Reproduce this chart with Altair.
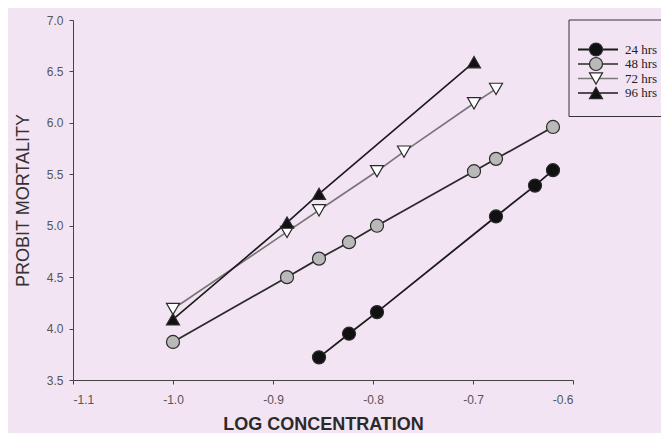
import altair as alt
import pandas as pd

# ---- data ----
series = ["24 hrs", "48 hrs", "72 hrs", "96 hrs"]

x24 = [-0.854, -0.824, -0.796, -0.677, -0.638, -0.620]
y24 = [3.72, 3.95, 4.16, 5.09, 5.39, 5.54]

x48 = [-1.000, -0.886, -0.854, -0.824, -0.796, -0.699, -0.677, -0.620]
y48 = [3.87, 4.50, 4.68, 4.84, 5.00, 5.53, 5.65, 5.96]

x72 = [-1.000, -0.886, -0.854, -0.796, -0.769, -0.699, -0.677]
y72 = [4.19, 4.94, 5.15, 5.53, 5.72, 6.19, 6.33]

x96 = [-1.000, -0.886, -0.854, -0.699]
y96 = [4.09, 5.03, 5.31, 6.59]

x_ticks = [-1.1, -1.0, -0.9, -0.8, -0.7, -0.6]
y_ticks = [3.5, 4.0, 4.5, 5.0, 5.5, 6.0, 6.5, 7.0]

# ---- styles ----
line_colors = ["#1a1a1a", "#2a2a2a", "#777777", "#1a1a1a"]
line_widths = [1.8, 1.6, 1.2, 1.6]
shapes = ["circle", "circle", "triangle-down", "triangle-up"]
fills = ["#111111", "#b9b9b9", "#ffffff", "#111111"]
BG = "#f3e4f3"

rows = []
for s, xs, ys in zip(series, [x24, x48, x72, x96], [y24, y48, y72, y96]):
    for xv, yv in zip(xs, ys):
        rows.append({"series": s, "logc": xv, "probit": yv})
df = pd.DataFrame(rows)

stroke_scale = alt.Scale(domain=series, range=line_colors)
width_scale = alt.Scale(domain=series, range=line_widths)
shape_scale = alt.Scale(domain=series, range=shapes)
fill_scale = alt.Scale(domain=series, range=fills)

xs_scale = alt.Scale(domain=[-1.1, -0.6], nice=False, zero=False)
ys_scale = alt.Scale(domain=[3.5, 7.0], nice=False, zero=False)

hyphen_label = "(datum.value < 0 ? '-' : '') + format(abs(datum.value), '.1f')"

x_enc = alt.X(
    "logc:Q",
    scale=xs_scale,
    axis=alt.Axis(
        title="LOG CONCENTRATION",
        values=x_ticks,
        labelExpr=hyphen_label,
        grid=False,
        tickSize=4,
        labelPadding=10,
        labelFontSize=12,
        labelFont="Liberation Sans",
        labelColor="#555555",
        domainColor="#444444",
        tickColor="#444444",
        titleFont="Liberation Sans",
        titleFontSize=18,
        titleFontWeight="bold",
        titleColor="#2a2a2a",
        titlePadding=10,
    ),
)
y_enc = alt.Y(
    "probit:Q",
    scale=ys_scale,
    axis=alt.Axis(
        title="PROBIT MORTALITY",
        values=y_ticks,
        format=".1f",
        grid=False,
        tickSize=4,
        labelPadding=6,
        labelFontSize=12,
        labelFont="Liberation Sans",
        labelColor="#555555",
        domainColor="#444444",
        tickColor="#444444",
        titleFont="Liberation Sans",
        titleFontSize=18,
        titleFontWeight="normal",
        titleColor="#333333",
        titlePadding=14,
    ),
)

lines = alt.Chart(df).mark_line().encode(
    x=x_enc,
    y=y_enc,
    detail="series:N",
    stroke=alt.Stroke("series:N", scale=stroke_scale, legend=None),
    strokeWidth=alt.StrokeWidth("series:N", scale=width_scale, legend=None),
)

points = alt.Chart(df).mark_point(
    filled=True, size=170, stroke="#2a2a2a", strokeWidth=1.2, opacity=1
).encode(
    x=alt.X("logc:Q", scale=xs_scale),
    y=alt.Y("probit:Q", scale=ys_scale),
    shape=alt.Shape("series:N", scale=shape_scale, legend=None),
    fill=alt.Fill("series:N", scale=fill_scale, legend=None),
)

main = alt.layer(lines, points)

# ---- hand-drawn legend (top right, frame cut by the edge) ----
leg_df = pd.DataFrame({"series": series})
ly = alt.Y(
    "series:N",
    sort=series,
    scale=alt.Scale(type="point", domain=series, range=[29.5, 73], padding=0),
    axis=None,
)

leg_box = alt.Chart(pd.DataFrame({"k": [0]})).mark_rect(
    fillOpacity=0, stroke="#333333", strokeWidth=1
).encode(
    x=alt.value(496), x2=alt.value(640), y=alt.value(0), y2=alt.value(96.5)
)
leg_rule = alt.Chart(leg_df).mark_rule().encode(
    x=alt.value(505),
    x2=alt.value(545),
    y=ly,
    stroke=alt.Stroke("series:N", scale=stroke_scale, legend=None),
    strokeWidth=alt.StrokeWidth("series:N", scale=width_scale, legend=None),
)
leg_pts = alt.Chart(leg_df).mark_point(
    filled=True, size=170, stroke="#2a2a2a", strokeWidth=1.2, opacity=1
).encode(
    x=alt.value(523),
    y=ly,
    shape=alt.Shape("series:N", scale=shape_scale, legend=None),
    fill=alt.Fill("series:N", scale=fill_scale, legend=None),
)
leg_txt = alt.Chart(leg_df).mark_text(
    align="left", baseline="middle", font="Liberation Serif", fontSize=13, color="#222222"
).encode(
    x=alt.value(552),
    y=ly,
    text="series:N",
)

legend = alt.layer(leg_box, leg_rule, leg_pts, leg_txt)

chart = (
    alt.layer(main, legend)
    .resolve_scale(y="independent")
    .properties(
        width=500,
        height=360,
        background=BG,
        padding={"left": 65, "top": 12, "right": 88, "bottom": 53},
        autosize=alt.AutoSizeParams(type="none"),
    )
    .configure_view(stroke=None)
)

chart.save("out.html", embed_options={"renderer": "svg", "actions": False})
